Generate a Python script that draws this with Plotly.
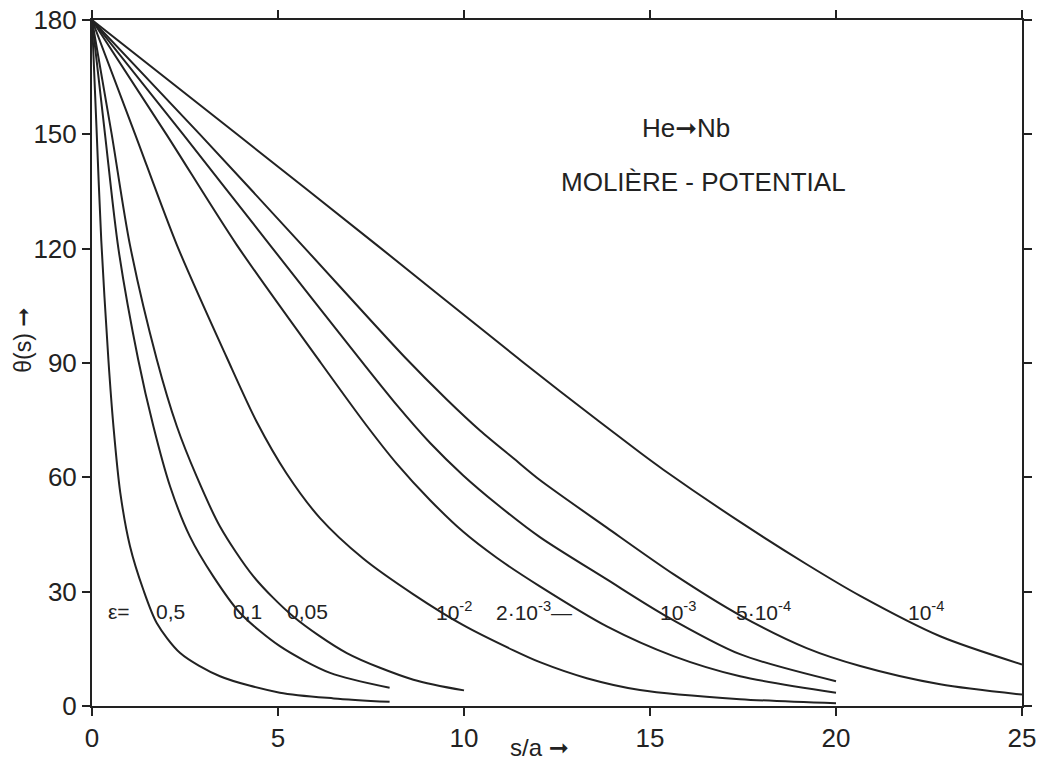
import plotly.graph_objects as go

# ---- data ----
eps_labels = ["0,5", "0,1", "0,05", "10<sup>-2</sup>", "2·10<sup>-3</sup>—",
              "10<sup>-3</sup>", "5·10<sup>-4</sup>", "10<sup>-4</sup>"]

s_e05 = [0, 0.12, 0.25, 0.44, 0.58, 0.76, 1.02, 1.38, 1.74, 2.37, 3.44, 5.05, 6.5, 8.0]
t_e05 = [180, 152, 122, 91, 73, 56, 42, 30.5, 21.8, 13.9, 7.8, 3.5, 2.0, 1.1]

s_e01 = [0, 0.35, 0.71, 1.24, 1.65, 2.10, 2.63, 3.26, 3.98, 5.05, 6.40, 8.0]
t_e01 = [180, 150, 120, 91, 73.4, 57.6, 44.5, 34.0, 24.4, 15.7, 8.7, 4.8]

s_e005 = [0, 0.53, 1.02, 1.74, 2.28, 2.81, 3.44, 4.34, 5.41, 6.85, 8.64, 10.0]
t_e005 = [180, 150, 121, 91, 73.4, 60.3, 47.1, 34.0, 23.5, 13.9, 6.9, 4.1]

s_e1m2 = [0, 1.16, 2.28, 3.62, 4.43, 5.23, 6.13, 7.29, 8.64, 9.98, 11.33, 12.04, 13.3, 14.73, 17.42, 20.0]
t_e1m2 = [180, 150, 121, 91.5, 74.5, 61, 49.3, 38.7, 29.3, 21.2, 14.6, 11.5, 7.3, 4.2, 1.8, 0.7]

s_e2m3 = [0, 2.0, 3.89, 6.08, 7.38, 8.19, 9.09, 9.98, 10.88, 12.04, 13.84, 15.63, 17.42, 20.0]
t_e2m3 = [180, 150, 121, 91, 73.6, 63.6, 54.0, 45.7, 38.9, 31.4, 20.9, 13.1, 7.8, 3.5]

s_e1m3 = [0, 2.45, 4.78, 7.2, 8.19, 9.09, 9.98, 10.88, 12.04, 13.84, 15.36, 17.42, 20.0]
t_e1m3 = [180, 150, 121, 91, 79, 69, 60.5, 53, 44.3, 33.2, 24.0, 13.6, 6.5]

s_e5m4 = [0, 2.9, 5.64, 8.41, 9.53, 10.43, 11.33, 12.04, 13.84, 15.63, 17.42, 19.21, 20.65, 22.8, 25.0]
t_e5m4 = [180, 150, 121, 91.5, 80.5, 72.3, 65.0, 59.3, 46.8, 34.6, 23.8, 15.2, 10.5, 5.7, 3.0]

s_e1m4 = [0, 3.9, 7.65, 11.42, 12.58, 14.73, 15.36, 17.42, 19.21, 20.65, 22.8, 25.0]
t_e1m4 = [180, 150, 121, 91.5, 82.6, 66.5, 62.0, 48.3, 37.2, 28.9, 18.3, 10.9]

series_s = [s_e05, s_e01, s_e005, s_e1m2, s_e2m3, s_e1m3, s_e5m4, s_e1m4]
series_t = [t_e05, t_e01, t_e005, t_e1m2, t_e2m3, t_e1m3, t_e5m4, t_e1m4]

# label anchor positions (data units)
label_x = [2.12, 4.18, 5.79, 9.72, 11.88, 15.75, 18.06, 22.43]
label_y = 24.8

x_ticks = [0, 5, 10, 15, 20, 25]
y_ticks = [0, 30, 60, 90, 120, 150, 180]

INK = "#222222"
FONT = "Liberation Sans, Arial, DejaVu Sans, sans-serif"
ARROW = "<span style='font-family:DejaVu Sans'>➞</span>"

fig = go.Figure()
for s, t in zip(series_s, series_t):
    fig.add_trace(go.Scatter(x=s, y=t, mode="lines",
                             line=dict(color=INK, width=2, shape="spline", smoothing=0.8),
                             showlegend=False, hoverinfo="skip"))

ann = []
ann.append(dict(x=0.73, y=label_y, xref="x", yref="y", text="ε=", showarrow=False,
                font=dict(size=21, color=INK, family=FONT)))
for lx, lt in zip(label_x, eps_labels):
    ann.append(dict(x=lx, y=label_y, xref="x", yref="y", text=lt, showarrow=False,
                    font=dict(size=21, color=INK, family=FONT)))
ann.append(dict(x=15.97, y=151.7, xref="x", yref="y", text="He" + ARROW + "Nb", showarrow=False,
                font=dict(size=26, color=INK, family=FONT)))
ann.append(dict(x=16.45, y=137.5, xref="x", yref="y", text="MOLIÈRE - POTENTIAL", showarrow=False,
                font=dict(size=26, color=INK, family=FONT)))
ann.append(dict(x=-0.0742, y=0.534, xref="paper", yref="paper", text="θ(s) " + ARROW, textangle=-90,
                xanchor="center", yanchor="middle",
                showarrow=False, font=dict(size=23, color=INK, family=FONT)))
ann.append(dict(x=0.4817, y=-0.0605, xref="paper", yref="paper", text="s/a " + ARROW,
                xanchor="center", yanchor="middle",
                showarrow=False, font=dict(size=24, color=INK, family=FONT)))

axis_common = dict(showgrid=False, zeroline=False, showline=True, linecolor=INK, linewidth=2,
                   mirror="ticks", ticks="outside", ticklen=8, tickwidth=2, tickcolor=INK,
                   automargin=False, ticklabeloverflow="allow",
                   tickfont=dict(size=26, color=INK, family=FONT))

fig.update_layout(
    width=1044, height=766,
    margin=dict(l=84, r=30, t=12, b=68),
    paper_bgcolor="white", plot_bgcolor="white",
    xaxis=dict(range=[0, 25], tickvals=x_ticks, ticktext=[str(v) for v in x_ticks], **axis_common),
    yaxis=dict(range=[0, 180], tickvals=y_ticks, ticktext=[str(v) for v in y_ticks], **axis_common),
    annotations=ann,
)

fig.write_html("out.html")
